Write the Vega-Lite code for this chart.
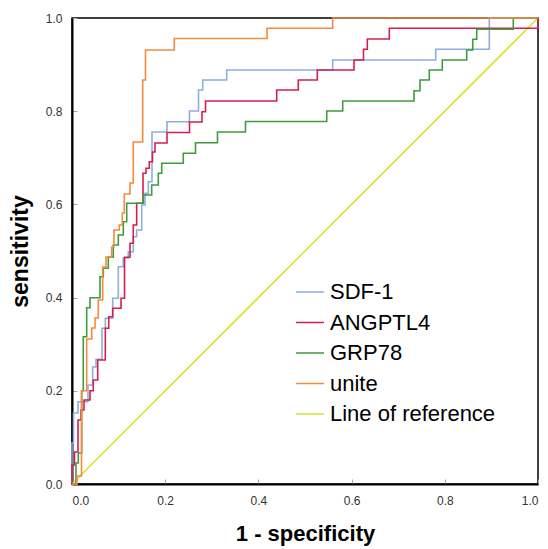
{
"$schema": "https://vega.github.io/schema/vega-lite/v6.json",
"width": 466, "height": 466,
"autosize": {"type": "none"},
"padding": {"left": 72, "top": 18, "right": 10, "bottom": 65},
"background": "white",
"config": {"view": {"stroke": "#000", "strokeWidth": 1.5}, "font": "Liberation Sans"},
"data": {"values": [
{"s":"Line of reference","x":0,"y":0},{"s":"Line of reference","x":1,"y":1},
{"s":"SDF-1","x":0,"y":0},{"s":"SDF-1","x":0,"y":0.088},{"s":"SDF-1","x":0.0032,"y":0.088},{"s":"SDF-1","x":0.0032,"y":0.1524},{"s":"SDF-1","x":0.0129,"y":0.1524},{"s":"SDF-1","x":0.0129,"y":0.1766},{"s":"SDF-1","x":0.0343,"y":0.1766},{"s":"SDF-1","x":0.0343,"y":0.2124},{"s":"SDF-1","x":0.0444,"y":0.2124},{"s":"SDF-1","x":0.0444,"y":0.2511},{"s":"SDF-1","x":0.0515,"y":0.2511},{"s":"SDF-1","x":0.0515,"y":0.2676},{"s":"SDF-1","x":0.0644,"y":0.2676},{"s":"SDF-1","x":0.0644,"y":0.3341},{"s":"SDF-1","x":0.0715,"y":0.3341},{"s":"SDF-1","x":0.0715,"y":0.3556},{"s":"SDF-1","x":0.0873,"y":0.3556},{"s":"SDF-1","x":0.0873,"y":0.3985},{"s":"SDF-1","x":0.0994,"y":0.3985},{"s":"SDF-1","x":0.0994,"y":0.4663},{"s":"SDF-1","x":0.1101,"y":0.4663},{"s":"SDF-1","x":0.1101,"y":0.485},{"s":"SDF-1","x":0.1208,"y":0.485},{"s":"SDF-1","x":0.1208,"y":0.4985},{"s":"SDF-1","x":0.1315,"y":0.4985},{"s":"SDF-1","x":0.1315,"y":0.5307},{"s":"SDF-1","x":0.1388,"y":0.5307},{"s":"SDF-1","x":0.1388,"y":0.5451},{"s":"SDF-1","x":0.1496,"y":0.5451},{"s":"SDF-1","x":0.1496,"y":0.5987},{"s":"SDF-1","x":0.1567,"y":0.5987},{"s":"SDF-1","x":0.1567,"y":0.6238},{"s":"SDF-1","x":0.1637,"y":0.6238},{"s":"SDF-1","x":0.1637,"y":0.6487},{"s":"SDF-1","x":0.1717,"y":0.6487},{"s":"SDF-1","x":0.1717,"y":0.7554},{"s":"SDF-1","x":0.2039,"y":0.7554},{"s":"SDF-1","x":0.2039,"y":0.7775},{"s":"SDF-1","x":0.2521,"y":0.7775},{"s":"SDF-1","x":0.2521,"y":0.8004},{"s":"SDF-1","x":0.2715,"y":0.8004},{"s":"SDF-1","x":0.2715,"y":0.8455},{"s":"SDF-1","x":0.2805,"y":0.8455},{"s":"SDF-1","x":0.2805,"y":0.867},{"s":"SDF-1","x":0.332,"y":0.867},{"s":"SDF-1","x":0.332,"y":0.8884},{"s":"SDF-1","x":0.5594,"y":0.8884},{"s":"SDF-1","x":0.5594,"y":0.9099},{"s":"SDF-1","x":0.7805,"y":0.9099},{"s":"SDF-1","x":0.7805,"y":0.9328},{"s":"SDF-1","x":0.8955,"y":0.9328},{"s":"SDF-1","x":0.8955,"y":1},{"s":"SDF-1","x":1,"y":1},
{"s":"ANGPTL4","x":0,"y":0},{"s":"ANGPTL4","x":0,"y":0.0408},{"s":"ANGPTL4","x":0.0054,"y":0.0408},{"s":"ANGPTL4","x":0.0054,"y":0.0687},{"s":"ANGPTL4","x":0.0129,"y":0.0687},{"s":"ANGPTL4","x":0.0129,"y":0.1373},{"s":"ANGPTL4","x":0.0193,"y":0.1373},{"s":"ANGPTL4","x":0.0193,"y":0.1588},{"s":"ANGPTL4","x":0.0258,"y":0.1588},{"s":"ANGPTL4","x":0.0258,"y":0.1803},{"s":"ANGPTL4","x":0.0386,"y":0.1803},{"s":"ANGPTL4","x":0.0386,"y":0.2002},{"s":"ANGPTL4","x":0.0457,"y":0.2002},{"s":"ANGPTL4","x":0.0457,"y":0.2232},{"s":"ANGPTL4","x":0.0552,"y":0.2232},{"s":"ANGPTL4","x":0.0552,"y":0.2661},{"s":"ANGPTL4","x":0.0715,"y":0.2661},{"s":"ANGPTL4","x":0.0715,"y":0.3341},{"s":"ANGPTL4","x":0.0788,"y":0.3341},{"s":"ANGPTL4","x":0.0788,"y":0.359},{"s":"ANGPTL4","x":0.0873,"y":0.359},{"s":"ANGPTL4","x":0.0873,"y":0.377},{"s":"ANGPTL4","x":0.1052,"y":0.377},{"s":"ANGPTL4","x":0.1052,"y":0.3985},{"s":"ANGPTL4","x":0.1127,"y":0.3985},{"s":"ANGPTL4","x":0.1127,"y":0.4865},{"s":"ANGPTL4","x":0.1245,"y":0.4865},{"s":"ANGPTL4","x":0.1245,"y":0.5165},{"s":"ANGPTL4","x":0.1315,"y":0.5165},{"s":"ANGPTL4","x":0.1315,"y":0.5558},{"s":"ANGPTL4","x":0.1388,"y":0.5558},{"s":"ANGPTL4","x":0.1388,"y":0.6024},{"s":"ANGPTL4","x":0.1524,"y":0.6024},{"s":"ANGPTL4","x":0.1524,"y":0.6667},{"s":"ANGPTL4","x":0.1588,"y":0.6667},{"s":"ANGPTL4","x":0.1588,"y":0.6775},{"s":"ANGPTL4","x":0.1659,"y":0.6775},{"s":"ANGPTL4","x":0.1659,"y":0.6916},{"s":"ANGPTL4","x":0.1727,"y":0.6916},{"s":"ANGPTL4","x":0.1727,"y":0.7124},{"s":"ANGPTL4","x":0.1781,"y":0.7124},{"s":"ANGPTL4","x":0.1781,"y":0.7318},{"s":"ANGPTL4","x":0.2039,"y":0.7318},{"s":"ANGPTL4","x":0.2039,"y":0.7543},{"s":"ANGPTL4","x":0.2521,"y":0.7543},{"s":"ANGPTL4","x":0.2521,"y":0.7768},{"s":"ANGPTL4","x":0.279,"y":0.7768},{"s":"ANGPTL4","x":0.279,"y":0.7989},{"s":"ANGPTL4","x":0.2865,"y":0.7989},{"s":"ANGPTL4","x":0.2865,"y":0.8219},{"s":"ANGPTL4","x":0.4393,"y":0.8219},{"s":"ANGPTL4","x":0.4393,"y":0.8455},{"s":"ANGPTL4","x":0.4856,"y":0.8455},{"s":"ANGPTL4","x":0.4856,"y":0.867},{"s":"ANGPTL4","x":0.5264,"y":0.867},{"s":"ANGPTL4","x":0.5264,"y":0.8884},{"s":"ANGPTL4","x":0.6052,"y":0.8884},{"s":"ANGPTL4","x":0.6052,"y":0.9099},{"s":"ANGPTL4","x":0.6255,"y":0.9099},{"s":"ANGPTL4","x":0.6255,"y":0.9328},{"s":"ANGPTL4","x":0.6337,"y":0.9328},{"s":"ANGPTL4","x":0.6337,"y":0.9549},{"s":"ANGPTL4","x":0.6809,"y":0.9549},{"s":"ANGPTL4","x":0.6809,"y":0.9779},{"s":"ANGPTL4","x":1,"y":0.9779},{"s":"ANGPTL4","x":1,"y":1},
{"s":"GRP78","x":0,"y":0},{"s":"GRP78","x":0.0086,"y":0},{"s":"GRP78","x":0.0086,"y":0.0451},{"s":"GRP78","x":0.0135,"y":0.0451},{"s":"GRP78","x":0.0135,"y":0.0665},{"s":"GRP78","x":0.0208,"y":0.0665},{"s":"GRP78","x":0.0208,"y":0.2002},{"s":"GRP78","x":0.0242,"y":0.2002},{"s":"GRP78","x":0.0242,"y":0.3161},{"s":"GRP78","x":0.0315,"y":0.3161},{"s":"GRP78","x":0.0315,"y":0.3783},{"s":"GRP78","x":0.0386,"y":0.3783},{"s":"GRP78","x":0.0386,"y":0.3998},{"s":"GRP78","x":0.0601,"y":0.3998},{"s":"GRP78","x":0.0601,"y":0.4448},{"s":"GRP78","x":0.0672,"y":0.4448},{"s":"GRP78","x":0.0672,"y":0.4629},{"s":"GRP78","x":0.0779,"y":0.4629},{"s":"GRP78","x":0.0779,"y":0.4865},{"s":"GRP78","x":0.0886,"y":0.4865},{"s":"GRP78","x":0.0886,"y":0.5129},{"s":"GRP78","x":0.0994,"y":0.5129},{"s":"GRP78","x":0.0994,"y":0.5343},{"s":"GRP78","x":0.1101,"y":0.5343},{"s":"GRP78","x":0.1101,"y":0.5629},{"s":"GRP78","x":0.1174,"y":0.5629},{"s":"GRP78","x":0.1174,"y":0.6024},{"s":"GRP78","x":0.153,"y":0.6024},{"s":"GRP78","x":0.153,"y":0.6202},{"s":"GRP78","x":0.171,"y":0.6202},{"s":"GRP78","x":0.171,"y":0.6416},{"s":"GRP78","x":0.1852,"y":0.6416},{"s":"GRP78","x":0.1852,"y":0.6667},{"s":"GRP78","x":0.1925,"y":0.6667},{"s":"GRP78","x":0.1925,"y":0.6882},{"s":"GRP78","x":0.2388,"y":0.6882},{"s":"GRP78","x":0.2388,"y":0.7097},{"s":"GRP78","x":0.265,"y":0.7097},{"s":"GRP78","x":0.265,"y":0.7324},{"s":"GRP78","x":0.3122,"y":0.7324},{"s":"GRP78","x":0.3122,"y":0.7554},{"s":"GRP78","x":0.3723,"y":0.7554},{"s":"GRP78","x":0.3723,"y":0.7779},{"s":"GRP78","x":0.5466,"y":0.7779},{"s":"GRP78","x":0.5466,"y":0.8004},{"s":"GRP78","x":0.5809,"y":0.8004},{"s":"GRP78","x":0.5809,"y":0.8219},{"s":"GRP78","x":0.7339,"y":0.8219},{"s":"GRP78","x":0.7339,"y":0.844},{"s":"GRP78","x":0.7468,"y":0.844},{"s":"GRP78","x":0.7468,"y":0.867},{"s":"GRP78","x":0.7667,"y":0.867},{"s":"GRP78","x":0.7667,"y":0.8884},{"s":"GRP78","x":0.7946,"y":0.8884},{"s":"GRP78","x":0.7946,"y":0.9099},{"s":"GRP78","x":0.847,"y":0.9099},{"s":"GRP78","x":0.847,"y":0.9313},{"s":"GRP78","x":0.8599,"y":0.9313},{"s":"GRP78","x":0.8599,"y":0.9543},{"s":"GRP78","x":0.8685,"y":0.9543},{"s":"GRP78","x":0.8685,"y":0.9758},{"s":"GRP78","x":0.947,"y":0.9758},{"s":"GRP78","x":0.947,"y":1},{"s":"GRP78","x":1,"y":1},
{"s":"unite","x":0,"y":0},{"s":"unite","x":0.0107,"y":0},{"s":"unite","x":0.0107,"y":0.0172},{"s":"unite","x":0.0204,"y":0.0172},{"s":"unite","x":0.0204,"y":0.2002},{"s":"unite","x":0.0315,"y":0.2002},{"s":"unite","x":0.0315,"y":0.3112},{"s":"unite","x":0.0423,"y":0.3112},{"s":"unite","x":0.0423,"y":0.3348},{"s":"unite","x":0.0494,"y":0.3348},{"s":"unite","x":0.0494,"y":0.3562},{"s":"unite","x":0.0564,"y":0.3562},{"s":"unite","x":0.0564,"y":0.3948},{"s":"unite","x":0.0659,"y":0.3948},{"s":"unite","x":0.0659,"y":0.4657},{"s":"unite","x":0.073,"y":0.4657},{"s":"unite","x":0.073,"y":0.4871},{"s":"unite","x":0.0852,"y":0.4871},{"s":"unite","x":0.0852,"y":0.5086},{"s":"unite","x":0.0901,"y":0.5086},{"s":"unite","x":0.0901,"y":0.5451},{"s":"unite","x":0.1015,"y":0.5451},{"s":"unite","x":0.1015,"y":0.5558},{"s":"unite","x":0.1079,"y":0.5558},{"s":"unite","x":0.1079,"y":0.5815},{"s":"unite","x":0.1122,"y":0.5815},{"s":"unite","x":0.1122,"y":0.6223},{"s":"unite","x":0.1245,"y":0.6223},{"s":"unite","x":0.1245,"y":0.6459},{"s":"unite","x":0.1315,"y":0.6459},{"s":"unite","x":0.1315,"y":0.7339},{"s":"unite","x":0.1517,"y":0.7339},{"s":"unite","x":0.1517,"y":0.867},{"s":"unite","x":0.1577,"y":0.867},{"s":"unite","x":0.1577,"y":0.9313},{"s":"unite","x":0.2195,"y":0.9313},{"s":"unite","x":0.2195,"y":0.956},{"s":"unite","x":0.4185,"y":0.956},{"s":"unite","x":0.4185,"y":0.9779},{"s":"unite","x":0.5594,"y":0.9779},{"s":"unite","x":0.5594,"y":1},{"s":"unite","x":1,"y":1}
]},
"mark": {"type": "line", "strokeWidth": 1.6, "clip": false},
"encoding": {
  "x": {"field": "x", "type": "quantitative", "scale": {"domain": [0, 1], "nice": false},
    "axis": {"title": "1 - specificity", "values": [0, 0.2, 0.4, 0.6, 0.8, 1], "format": ".1f", "grid": false,
      "domainColor": "#000", "domainWidth": 2, "tickColor": "#aaa", "tickSize": -5, "labelFontSize": 12, "labelColor": "#333",
      "labelPadding": 16, "titleFontSize": 22, "titleFontWeight": "bold", "titleColor": "#000", "titlePadding": 17}},
  "y": {"field": "y", "type": "quantitative", "scale": {"domain": [0, 1], "nice": false},
    "axis": {"title": "sensitivity", "values": [0, 0.2, 0.4, 0.6, 0.8, 1], "format": ".1f", "grid": false,
      "domainColor": "#000", "domainWidth": 2, "tickColor": "#aaa", "tickSize": -5, "labelFontSize": 12, "labelColor": "#333",
      "labelPadding": 15, "titleFontSize": 23, "titleFontWeight": "bold", "titleColor": "#000", "titlePadding": 13}},
  "color": {"field": "s", "type": "nominal",
    "scale": {"domain": ["SDF-1", "ANGPTL4", "GRP78", "unite", "Line of reference"],
              "range": ["#8eaedd", "#d61f4e", "#3e9b3e", "#f28b3f", "#d6e234"]},
    "legend": {"orient": "none", "legendX": 223, "legendY": 259, "title": null, "symbolType": "stroke", "symbolSize": 784,
      "symbolStrokeWidth": 1.5, "labelFontSize": 22, "labelColor": "#000", "labelOffset": 5, "labelLimit": 400, "rowPadding": 4.5, "padding": 0}},
  "order": {"value": null}
}
}
